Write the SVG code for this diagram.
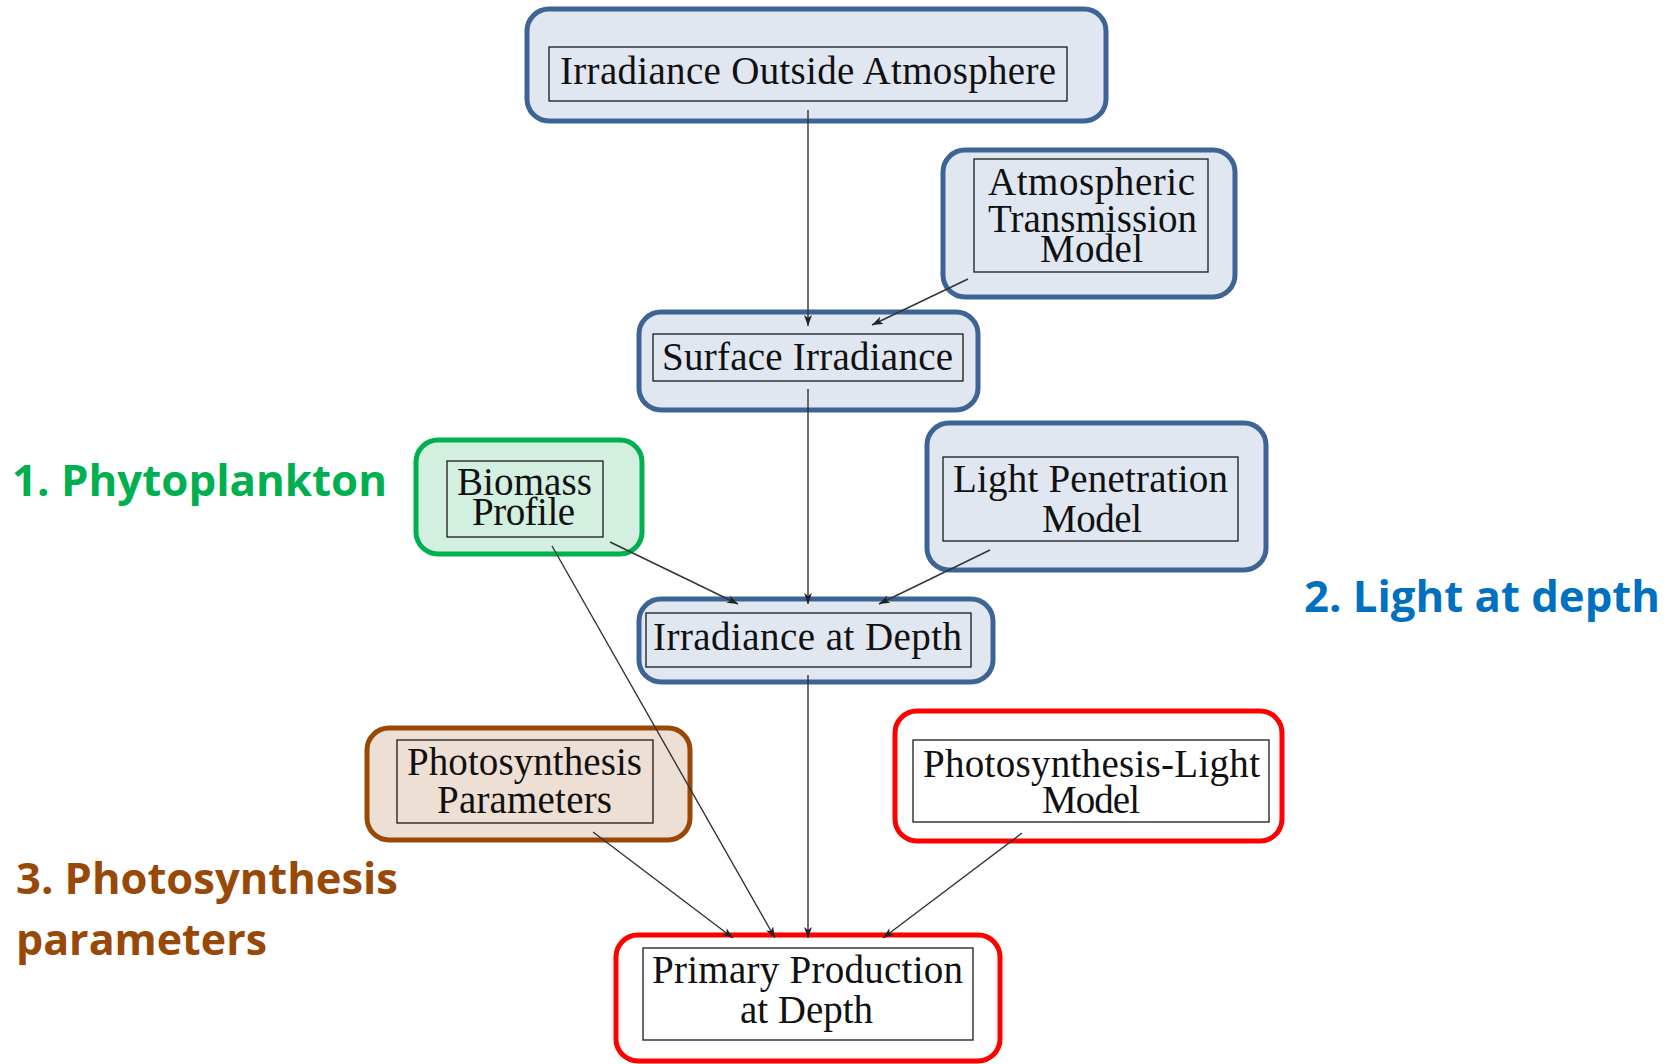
<svg xmlns="http://www.w3.org/2000/svg" width="1673" height="1064" viewBox="0 0 1673 1064">
<style>
.outer{stroke-width:5;rx:22;ry:22}
.blue{fill:#E0E7F1;stroke:#3E6496}
.green{fill:#D3EFE0;stroke:#00B050}
.brown{fill:#EEDFD4;stroke:#984807}
.red{fill:#FFFFFF;stroke:#FF0000}
.inner{fill:none;stroke:#1a1a1a;stroke-width:1.3}
.t{font-family:"Liberation Serif","Times New Roman",serif;font-size:39px;fill:#111}
.lbl{font-family:"Open Sans","Liberation Sans",sans-serif;font-weight:bold;font-size:43px}
.conn{stroke:#333;stroke-width:1.4;fill:none;marker-end:url(#arr)}
</style>
<defs>
<marker id="arr" markerUnits="userSpaceOnUse" markerWidth="12" markerHeight="8" refX="11" refY="4" orient="auto">
<path d="M0,0 L11,4 L0,8 L3,4 z" fill="#222"/>
</marker>
</defs>

<g id="node-ioa">
<rect class="outer blue" x="527" y="9" width="579" height="112"/>
<rect class="inner" x="549" y="47" width="518" height="54"/>
<text class="t" x="560" y="84" textLength="496" lengthAdjust="spacing">Irradiance Outside Atmosphere</text>
</g>

<g id="node-atm">
<rect class="outer blue" x="943" y="150" width="292" height="147"/>
<rect class="inner" x="974" y="159" width="234" height="113"/>
<text class="t" x="988" y="195" textLength="207" lengthAdjust="spacing">Atmospheric</text>
<text class="t" x="988" y="232" textLength="209" lengthAdjust="spacing">Transmission</text>
<text class="t" x="1040" y="262" textLength="103" lengthAdjust="spacing">Model</text>
</g>

<g id="node-si">
<rect class="outer blue" x="639" y="312" width="339" height="98"/>
<rect class="inner" x="653" y="334" width="310" height="47"/>
<text class="t" x="662" y="370" textLength="291" lengthAdjust="spacing">Surface Irradiance</text>
</g>

<g id="node-bp">
<rect class="outer green" x="416" y="440" width="226" height="114"/>
<rect class="inner" x="447" y="461" width="156" height="76"/>
<text class="t" x="457" y="495" textLength="135" lengthAdjust="spacing">Biomass</text>
<text class="t" x="472" y="525" textLength="103" lengthAdjust="spacing">Profile</text>
</g>

<g id="node-lpm">
<rect class="outer blue" x="927" y="423" width="339" height="147"/>
<rect class="inner" x="943" y="457" width="295" height="84"/>
<text class="t" x="953" y="492" textLength="275" lengthAdjust="spacing">Light Penetration</text>
<text class="t" x="1042" y="532" textLength="100" lengthAdjust="spacing">Model</text>
</g>

<g id="node-iad">
<rect class="outer blue" x="639" y="599" width="354" height="83"/>
<rect class="inner" x="646" y="613" width="325" height="54"/>
<text class="t" x="653" y="650" textLength="309" lengthAdjust="spacing">Irradiance at Depth</text>
</g>

<g id="node-pp">
<rect class="outer brown" x="367" y="728" width="323" height="112"/>
<rect class="inner" x="397" y="740" width="256" height="83"/>
<text class="t" x="407" y="775" textLength="235" lengthAdjust="spacing">Photosynthesis</text>
<text class="t" x="437" y="813" textLength="175" lengthAdjust="spacing">Parameters</text>
</g>

<g id="node-plm">
<rect class="outer red" x="895" y="711" width="387" height="130"/>
<rect class="inner" x="913" y="740" width="356" height="82"/>
<text class="t" x="923" y="777" textLength="337" lengthAdjust="spacing">Photosynthesis-Light</text>
<text class="t" x="1042" y="813" textLength="98" lengthAdjust="spacing">Model</text>
</g>

<g id="node-ppd">
<rect class="outer red" x="616" y="935" width="384" height="126"/>
<rect class="inner" x="643" y="948" width="330" height="92"/>
<text class="t" x="652" y="983" textLength="311" lengthAdjust="spacing">Primary Production</text>
<text class="t" x="740" y="1023" textLength="133" lengthAdjust="spacing">at Depth</text>
</g>

<g id="connectors">
<line class="conn" x1="808" y1="110" x2="808" y2="326"/>
<line class="conn" x1="968" y1="279" x2="872" y2="325"/>
<line class="conn" x1="808" y1="389" x2="808" y2="604"/>
<line class="conn" x1="610" y1="542" x2="738" y2="604"/>
<line class="conn" x1="990" y1="550" x2="879" y2="604"/>
<line class="conn" x1="552" y1="546" x2="775" y2="938"/>
<line class="conn" x1="593" y1="832" x2="733" y2="938"/>
<line class="conn" x1="808" y1="675" x2="808" y2="938"/>
<line class="conn" x1="1022" y1="833" x2="883" y2="938"/>
</g>

<g id="labels">
<text class="lbl" x="12" y="496" fill="#00B050" textLength="375" lengthAdjust="spacingAndGlyphs">1. Phytoplankton</text>
<text class="lbl" x="1304" y="612" fill="#0070C0" textLength="356" lengthAdjust="spacingAndGlyphs">2. Light at depth</text>
<text class="lbl" x="16" y="894" fill="#984807" textLength="382" lengthAdjust="spacingAndGlyphs">3. Photosynthesis</text>
<text class="lbl" x="16" y="955" fill="#984807" textLength="251" lengthAdjust="spacingAndGlyphs">parameters</text>
</g>
</svg>
